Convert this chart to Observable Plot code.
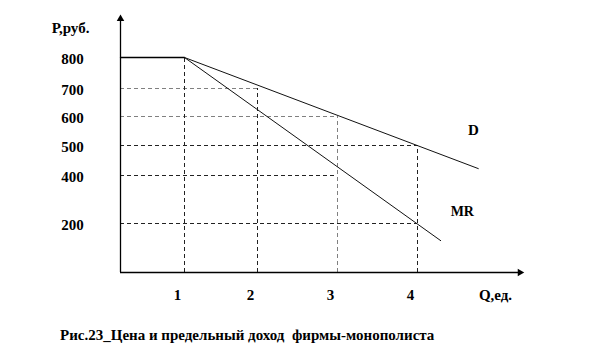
<!DOCTYPE html>
<html>
<head>
<meta charset="utf-8">
<script src="https://cdn.jsdelivr.net/npm/d3@7"></script>
<script src="https://cdn.jsdelivr.net/npm/@observablehq/plot@0.6"></script>
<style>
  html, body { margin: 0; padding: 0; background: #fff; }
  #caption { font: bold 15px 'Liberation Serif'; line-height: 26px; padding-left: 60px; color: #000; white-space: pre; }
  #chart svg text { font-family: 'Liberation Serif'; }
</style>
</head>
<body>
<div id="chart"></div>
<div id="caption"></div>
<script>
// ---- data ----
const quantities = [1, 2, 3, 4];
const demandPrices = [800, 700, 600, 500];     // D
const marginalRevenue = [800, 600, 400, 200];  // MR
const priceTicks = [800, 700, 600, 500, 400, 200];
const qTicks = ["1", "2", "3", "4"];
const demandEnd = {q: 4.76, p: 423};
const mrEnd = {q: 4.29, p: 130};
const yLabel = "Р,руб.";
const xLabel = "Q,ед.";
const captionText = "Рис.23_Цена и предельный доход  фирмы-монополиста";

document.getElementById("caption").textContent = captionText;

// guides
const vGuides = quantities.map((q, i) => ({q, p: demandPrices[i]}));
const hGuides = [
  {p: 700, q: 2, gray: true},
  {p: 600, q: 3, gray: true},
  {p: 500, q: 4, gray: false},
  {p: marginalRevenue[2], q: 3, gray: false},
  {p: marginalRevenue[3], q: 4, gray: false}
];
const dLine = [{q: quantities[0], p: demandPrices[0]}, demandEnd];
const mrLine = [{q: quantities[0], p: marginalRevenue[0]}, mrEnd];
const flat = [{q: 0, p: demandPrices[0]}, {q: quantities[0], p: demandPrices[0]}];

const chart = Plot.plot({
  width: 616,
  height: 322,
  margin: 0,
  style: {fontFamily: "'Liberation Serif'", background: "#fff", color: "#000"},
  x: {type: "linear", domain: [0, 1, 2, 3, 4], range: [120, 184, 257, 337, 417], axis: null},
  y: {type: "linear", domain: [0, 200, 400, 500, 600, 700, 800], range: [272, 223, 175, 145, 116, 88, 57], axis: null},
  marks: [
    // dashed horizontal guides
    Plot.ruleY(hGuides, {y: "p", x1: 0, x2: "q", stroke: d => d.gray ? "#808080" : "#222", strokeWidth: 1, strokeDasharray: "4,3"}),
    // dashed vertical guides
    Plot.ruleX(vGuides, {x: "q", y1: 0, y2: "p", stroke: d => d.q === 3 ? "#808080" : "#222", strokeWidth: 1, strokeDasharray: "4,3"}),
    // axes
    Plot.ruleX([0], {y1: 0, y2: 925, stroke: "#000", strokeWidth: 1.3}),
    Plot.ruleY([0], {x1: 0, x2: 5.3, stroke: "#000", strokeWidth: 1.3}),
    Plot.dot([{q: 0, p: 925}], {x: "q", y: "p", symbol: "triangle2", r: 3.6, fill: "#000", stroke: "none"}),
    Plot.dot([{q: 5.28, p: 0}], {x: "q", y: "p", symbol: "triangle2", r: 3.6, fill: "#000", stroke: "none", rotate: 90}),
    // curves
    Plot.line(flat, {x: "q", y: "p", stroke: "#000", strokeWidth: 1.3}),
    Plot.line(dLine, {x: "q", y: "p", stroke: "#111", strokeWidth: 1}),
    Plot.line(mrLine, {x: "q", y: "p", stroke: "#111", strokeWidth: 1}),
    // tick labels
    Plot.text(priceTicks, {x: 0, y: d => d, text: d => String(d), dx: -48, dy: 2, fontSize: 15, fontWeight: "bold", fill: "#000"}),
    Plot.text(quantities, {x: d => d, y: 0, text: (d, i) => qTicks[i], dx: -7, dy: 23, fontSize: 15, fontWeight: "bold", fill: "#000"}),
    // axis titles
    Plot.text([yLabel], {x: 0, y: 893, text: d => d, dx: -50, fontSize: 15, fontWeight: "bold", fill: "#000"}),
    Plot.text([xLabel], {x: 5, y: 0, text: d => d, dx: -2, dy: 23, fontSize: 15, fontWeight: "bold", fill: "#000"}),
    // curve labels
    Plot.text(["D"], {x: 4.7, y: 552, text: d => d, fontSize: 15, fontWeight: "bold", fill: "#000"}),
    Plot.text(["MR"], {x: 4.56, y: 250, text: d => d, fontSize: 14, fontWeight: "bold", fill: "#000"})
  ]
});
document.getElementById("chart").appendChild(chart);
</script>
</body>
</html>
